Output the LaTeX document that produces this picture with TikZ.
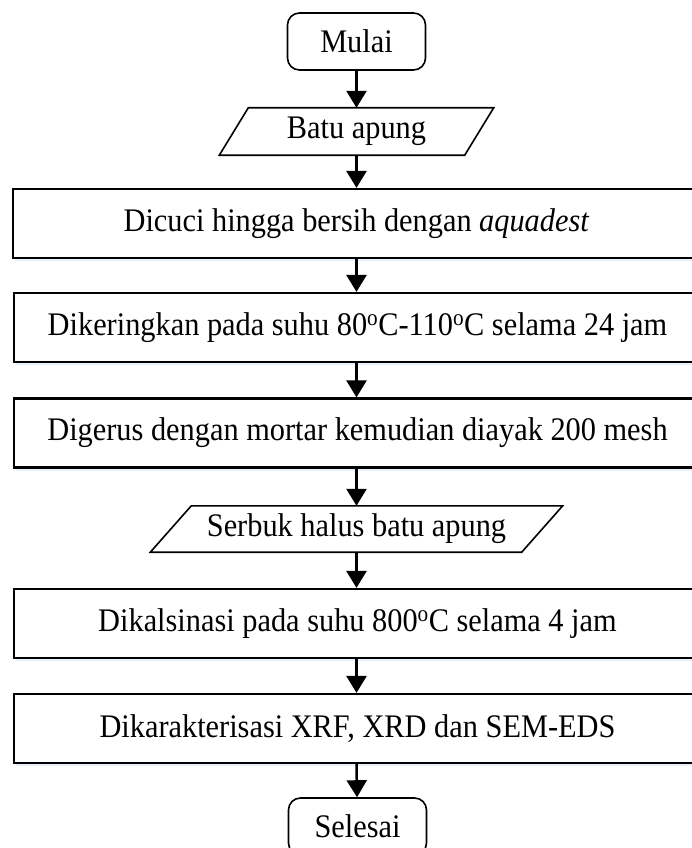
\documentclass[tikz,border=0pt]{standalone}
\usepackage{graphicx}
\usepackage{fontspec}
\setmainfont{Liberation Serif}
\usetikzlibrary{arrows.meta,shadows}
\definecolor{shadowc}{RGB}{234,240,247}
\newcommand{\vtx}[1]{\scalebox{0.995}[1.08]{#1}}
\begin{document}
\begin{tikzpicture}[x=1pt,y=-1pt,
  every node/.style={font=\fontsize{30.5}{36}\selectfont, inner sep=0pt},
  procbox/.style={draw, line width=2.2pt, fill=white, minimum width=687pt, minimum height=69pt,
    drop shadow={shadow xshift=2pt, shadow yshift=-3pt, fill=shadowc, opacity=1}},
  termbox/.style={draw, line width=1.6pt, rounded corners=12pt, minimum width=138pt, minimum height=57pt},
  iobox/.style={minimum height=47pt},
  ioline/.style={line width=1.6pt},
  flow/.style={line width=2.5pt, -{Triangle[length=17pt,width=20pt]}}
]
\useasboundingbox (0,0) rectangle (691,848);

\node[termbox] (mulai) at (356.5,41.5) {\vtx{Mulai}};
\node[iobox, minimum width=245pt] (p1) at (356.5,131.5) {\vtx{Batu apung}};
\node[procbox] (b1) at (356.5,223.5) {\vtx{Dicuci hingga bersih dengan \textit{aquadest}}};
\node[procbox] (b2) at (357.5,327.5) {\vtx{Dikeringkan pada suhu 80\textsuperscript{o}C-110\textsuperscript{o}C selama 24 jam}};
\node[procbox] (b3) at (357.5,433) {\vtx{Digerus dengan mortar kemudian diayak 200 mesh}};
\node[iobox, minimum width=371pt, minimum height=46pt] (p2) at (356.5,529) {\vtx{Serbuk halus batu apung}};
\node[procbox] (b4) at (357.5,623.5) {\vtx{Dikalsinasi pada suhu 800\textsuperscript{o}C selama 4 jam}};
\node[procbox] (b5) at (357.5,728.5) {\vtx{Dikarakterisasi XRF, XRD dan SEM-EDS}};
\node[termbox] (selesai) at (357.5,826.5) {\vtx{Selesai}};

\draw[ioline] ([xshift=14.5pt]p1.north west) -- ([xshift=14.5pt]p1.north east)
  -- ([xshift=-14.5pt]p1.south east) -- ([xshift=-14.5pt]p1.south west) -- cycle;
\draw[ioline] ([xshift=20.5pt]p2.north west) -- ([xshift=20.5pt]p2.north east)
  -- ([xshift=-20.5pt]p2.south east) -- ([xshift=-20.5pt]p2.south west) -- cycle;

\draw[flow] (mulai) -- (p1);
\draw[flow] (p1) -- (p1 |- b1.north);
\draw[flow] (p1 |- b1.south) -- (p1 |- b2.north);
\draw[flow] (p1 |- b2.south) -- (p1 |- b3.north);
\draw[flow] (p1 |- b3.south) -- (p2);
\draw[flow] (p2) -- (p2 |- b4.north);
\draw[flow] (p2 |- b4.south) -- (p2 |- b5.north);
\draw[flow] (p2 |- b5.south) -- (selesai);
\end{tikzpicture}
\end{document}
